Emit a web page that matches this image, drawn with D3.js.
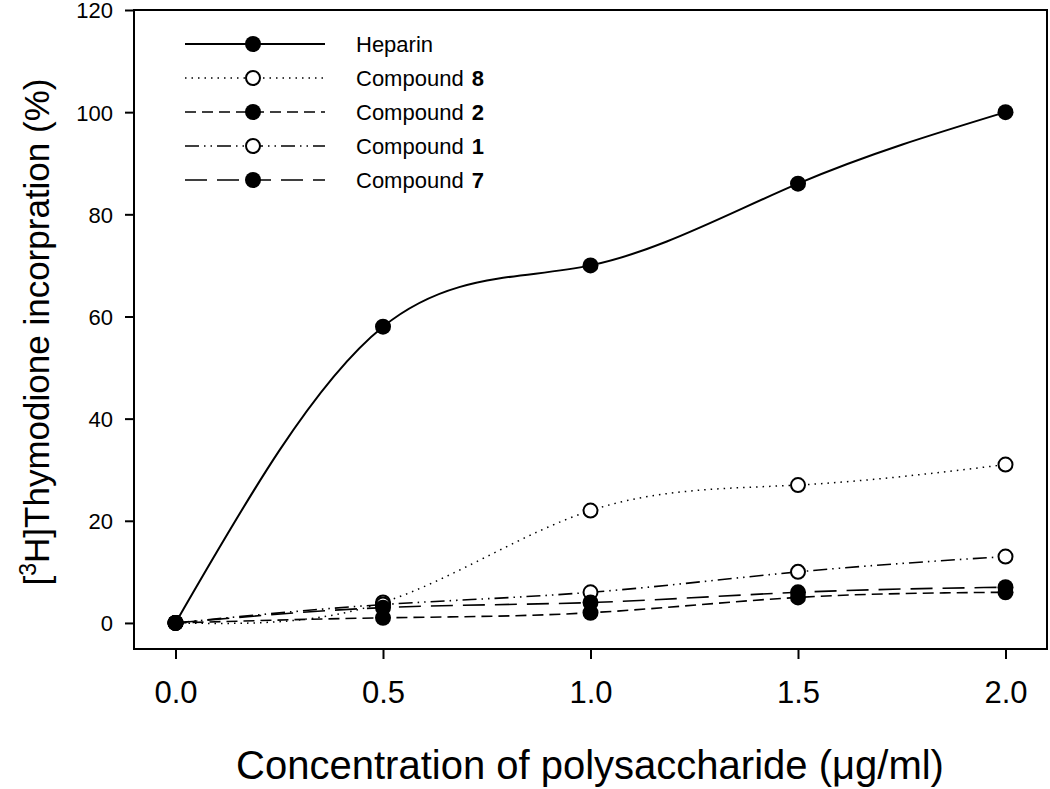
<!DOCTYPE html>
<html>
<head>
<meta charset="utf-8">
<script src="https://cdn.jsdelivr.net/npm/d3@7"></script>
<style>
  body { margin: 0; background: #fff; }
  svg { display: block; }
  text { font-family: "Liberation Sans", Arial, sans-serif; fill: #000; }
</style>
</head>
<body>
<svg id="chart"></svg>
<script>
// concentrations (ug/ml)
const concentrations = [0, 0.5, 1.0, 1.5, 2.0];
const heparin = [0, 58, 70, 86, 100];
const compound8 = [0, 4, 22, 27, 31];
const compound2 = [0, 1, 2, 5, 6];
const compound1 = [0, 3.6, 6, 10, 13];
const compound7 = [0, 3, 4, 6, 7];
const xTicks = [0, 0.5, 1.0, 1.5, 2.0];
const yTicks = [0, 20, 40, 60, 80, 100, 120];

const series = [
  { name: "Heparin", num: "", values: heparin, dash: null, width: 2, filled: true },
  { name: "Compound", num: "8", values: compound8, dash: "1.5,5", width: 1.5, filled: false },
  { name: "Compound", num: "2", values: compound2, dash: "11,6", width: 1.6, filled: true },
  { name: "Compound", num: "1", values: compound1, dash: "14,5,1.5,5,1.5,5", width: 1.6, filled: false },
  { name: "Compound", num: "7", values: compound7, dash: "22,10", width: 1.6, filled: true }
];

const W = 1050, H = 789;
const margin = { top: 10, right: 3, bottom: 140, left: 134 };
const width = W - margin.left - margin.right;
const height = H - margin.top - margin.bottom;

const svg = d3.select("#chart").attr("width", W).attr("height", H);
const g = svg.append("g").attr("transform", `translate(${margin.left},${margin.top})`);

const x = d3.scaleLinear().domain([-0.1, 2.1]).range([0, width]);
const y = d3.scaleLinear().domain([-5.1, 120]).range([height, 0]);

// frame
g.append("rect")
  .attr("width", width).attr("height", height)
  .attr("fill", "none").attr("stroke", "#000").attr("stroke-width", 2);

// x axis
const xAxis = g.append("g")
  .attr("transform", `translate(0,${height})`)
  .call(d3.axisBottom(x).tickValues(xTicks).tickFormat(d3.format(".1f")).tickSize(10).tickPadding(22));
xAxis.select(".domain").remove();
xAxis.selectAll("line").attr("stroke-width", 2);
xAxis.selectAll("text")
  .style("font-family", '"Liberation Sans Narrow", "Liberation Sans", Arial')
  .attr("font-size", 31);

// y axis
const yAxis = g.append("g")
  .call(d3.axisLeft(y).tickValues(yTicks).tickSize(9).tickPadding(12));
yAxis.select(".domain").remove();
yAxis.selectAll("line").attr("stroke-width", 2);
yAxis.selectAll("text").attr("font-size", 22).attr("dy", "0.36em");

// axis titles
svg.append("text")
  .attr("x", 590).attr("y", 779)
  .attr("text-anchor", "middle")
  .attr("font-size", 40)
  .text("Concentration of polysaccharide (μg/ml)");

const yt = svg.append("text")
  .attr("transform", "translate(49,332) rotate(-90)")
  .attr("text-anchor", "middle")
  .attr("font-size", 35);
yt.append("tspan").text("[");
yt.append("tspan").attr("baseline-shift", "super").attr("font-size", 23).text("3");
yt.append("tspan").text("H]Thymodione incorpration (%)");

// lines (smoothed like the original spline plot)
const line = d3.line()
  .x((d, i) => x(concentrations[i]))
  .y(d => y(d))
  .curve(d3.curveNatural);

series.forEach(s => {
  g.append("path")
    .datum(s.values)
    .attr("d", line)
    .attr("fill", "none")
    .attr("stroke", "#000")
    .attr("stroke-width", s.width)
    .attr("stroke-dasharray", s.dash);
});

series.forEach(s => {
  g.selectAll(null)
    .data(s.values)
    .enter()
    .append("circle")
    .attr("cx", (d, i) => x(concentrations[i]))
    .attr("cy", d => y(d))
    .attr("r", s.filled ? 8 : 7)
    .attr("fill", s.filled ? "#000" : "#fff")
    .attr("stroke", "#000")
    .attr("stroke-width", s.filled ? 0 : 2);
});

// legend
const legend = svg.append("g");
series.forEach((s, i) => {
  const ly = 44 + i * 34;
  legend.append("line")
    .attr("x1", 185).attr("x2", 325).attr("y1", ly).attr("y2", ly)
    .attr("stroke", "#000").attr("stroke-width", s.width)
    .attr("stroke-dasharray", s.dash);
  legend.append("circle")
    .attr("cx", 253).attr("cy", ly)
    .attr("r", s.filled ? 8 : 7)
    .attr("fill", s.filled ? "#000" : "#fff")
    .attr("stroke", "#000").attr("stroke-width", s.filled ? 0 : 2);
  const t = legend.append("text")
    .attr("x", 356).attr("y", ly + 8)
    .attr("font-size", 22);
  t.append("tspan").text(s.name);
  if (s.num) t.append("tspan").attr("dx", 8).attr("font-weight", "bold").text(s.num);
});
</script>
</body>
</html>
